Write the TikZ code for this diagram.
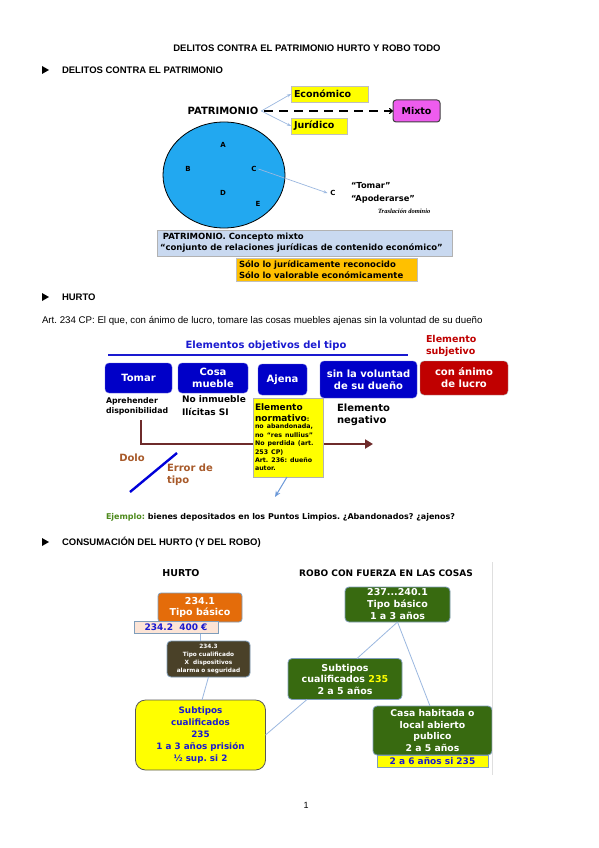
\documentclass[tikz,border=0pt]{standalone}
\usepackage{fontspec}
\setmainfont{Liberation Sans}
\newfontfamily\djv{DejaVu Sans}
\newfontfamily\lserif{Liberation Serif}
\usetikzlibrary{shapes.geometric,arrows.meta}
\newcommand\fs[2]{\fontsize{#1}{#2}\selectfont}
\frenchspacing
\definecolor{yel}{HTML}{FFFF00}
\definecolor{magbox}{HTML}{EE5CEE}
\definecolor{sky}{HTML}{22A8F0}
\definecolor{concept}{HTML}{C9D9F0}
\definecolor{orgy}{HTML}{FFC000}
\definecolor{dblue}{HTML}{0000C8}
\definecolor{tblue}{HTML}{1A1AD0}
\definecolor{dred}{HTML}{C00000}
\definecolor{brownl}{HTML}{6E2B2B}
\definecolor{dolo}{HTML}{A85A2A}
\definecolor{grn}{HTML}{386A10}
\definecolor{egreen}{HTML}{4E8A1C}
\definecolor{org2}{HTML}{E46C0A}
\definecolor{peach}{HTML}{FCE4D6}
\definecolor{olb}{HTML}{4A4128}
\definecolor{lineb}{HTML}{9BB8E0}
\definecolor{arrb}{HTML}{6A98D8}
\definecolor{bborder}{HTML}{7F9DBA}
\begin{document}
\frenchspacing
\begin{tikzpicture}[x=1pt,y=-1pt,
  every node/.style={inner sep=0pt, outer sep=0pt},
  pgb/.style={font=\bfseries\fs{9.5}{11}},
  pg/.style={font=\fs{9}{11}},
  dj/.style 2 args={font=\djv\bfseries\fs{#1}{#2}},
  ybox/.style={fill=yel, draw=gray!50, align=left, inner xsep=3pt},
  bluebox/.style={fill=dblue, draw=dblue!60!white, rounded corners=4pt, text=white, align=center, dj={10}{12}},
  thinarrow/.style={draw=lineb, line width=0.7pt, -{Stealth[length=4pt,width=3pt,open]}},
  linkb/.style={draw=lineb, line width=0.8pt},
  greenbox/.style={fill=grn, draw=bborder, rounded corners=4pt, text=white, align=center, line width=0.8pt}
]
\useasboundingbox (0,0) rectangle (599,848);
\fill[white] (0,0) rectangle (599,848);

% header
\node[pgb] (title) at (307,48) {DELITOS CONTRA EL PATRIMONIO HURTO Y ROBO TODO};
\fill (42,66) -- (49,70) -- (42,74) -- cycle;
\node[pgb, anchor=west] (h1) at (62,70) {DELITOS CONTRA EL PATRIMONIO};

% patrimonio
\node[dj={10}{12}] (patr) at (223,111) {PATRIMONIO};
\node[ybox, dj={9.5}{11}, minimum height=16pt, text width=71pt] (eco) at (329.5,94) {Económico};
\node[ybox, dj={9.5}{11}, minimum height=16pt, text width=50pt] (jur) at (319,126) {Jurídico};
\node[fill=magbox, draw=black!75, line width=1pt, rounded corners=3pt, minimum width=47pt, minimum height=22pt, dj={9.5}{11}] (mixto) at (416.5,111) {Mixto};
\draw[thinarrow] ([xshift=3pt]patr.east) -- (eco.west);
\draw[thinarrow] ([xshift=3pt]patr.east) -- (jur.west);
\draw[line width=1.1pt, dash pattern=on 9pt off 6pt, -{To[length=4pt,width=6pt]}] ([xshift=6pt]patr.east) -- (mixto.west);

\node[ellipse, draw=black, line width=0.8pt, fill=sky, minimum width=122pt, minimum height=106pt] (circ) at (224,175) {};
\node[dj={7}{8}] (la) at (223,145) {A};
\node[dj={7}{8}] (lb) at (188,169) {B};
\node[dj={7}{8}] (lc) at (254,169) {C};
\node[dj={7}{8}] (ld) at (223,193) {D};
\node[dj={7}{8}] (le) at (258,204) {E};
\node[dj={7}{8}] (c2) at (333,193) {C};
\draw[thinarrow] ([xshift=2pt]lc.east) -- ([xshift=-3pt]c2.west);
\node[dj={8.3}{10}, anchor=west] (tomar) at (351,186) {“Tomar”};
\node[dj={8.3}{10}, anchor=west] (apod) at (351,199) {“Apoderarse”};
\node[font=\lserif\bfseries\itshape\fs{6.5}{8}, anchor=west] (trasl) at (378,211) {Traslación dominio};

\node[fill=concept, draw=gray!60, minimum width=295pt, minimum height=26pt, text width=289pt, inner xsep=3pt, align=left, dj={8.5}{11}] (concepto) at (304.5,243) {\ PATRIMONIO. Concepto mixto\\“conjunto de relaciones jurídicas de contenido económico”};
\node[fill=orgy, draw=gray!50, minimum width=181pt, minimum height=23pt, text width=175pt, inner xsep=3pt, align=left, dj={8.5}{11.5}] (solo) at (326.5,269.5) {Sólo lo jurídicamente reconocido\\Sólo lo valorable económicamente};

% hurto
\fill (42,293) -- (49,297) -- (42,301) -- cycle;
\node[pgb, anchor=west] (h2) at (62,297) {HURTO};
\node[font=\fs{9.7}{11}, anchor=west] (art) at (42,321) {Art. 234 CP: El que, con ánimo de lucro, tomare las cosas muebles ajenas sin la voluntad de su dueño};

\node[dj={10}{12}, text=tblue] (elobj) at (266,346) {Elementos objetivos del tipo};
\coordinate (ul1) at (108,355);
\coordinate (ul2) at (408,355);
\draw[tblue, line width=1.3pt] (ul1) -- (ul2);
\node[dj={9.5}{12}, text=dred, align=left, anchor=north west] (elsub) at (426,335) {Elemento\\subjetivo};

\node[bluebox, minimum width=67pt, minimum height=30pt] (btomar) at (138.5,378) {Tomar};
\node[bluebox, minimum width=70pt, minimum height=30pt] (bcosa) at (213,378) {Cosa\\mueble};
\node[bluebox, minimum width=49pt, minimum height=31pt] (bajena) at (282.5,379.5) {Ajena};
\node[bluebox, minimum width=97pt, minimum height=37pt] (bsin) at (368.5,379.5) {sin la voluntad\\de su dueño};
\node[bluebox, fill=dred, draw=gray!70, minimum width=88pt, minimum height=34pt] (blucro) at (464,378) {con ánimo\\de lucro};

\node[dj={7.8}{10}, align=left, anchor=north west] (apre) at (106,398) {Aprehender\\disponibilidad};
\node[dj={9}{13}, align=left, anchor=north west] (noinm) at (182,396) {No inmueble\\Ilícitas SI};

% brown line
\coordinate (bl1) at (141,420);
\coordinate (bl2) at (141,444);
\coordinate (bl3) at (373,444);
\draw[brownl, line width=2.6pt, -{Triangle[length=8pt,width=9pt]}] (bl1) -- (bl2) -- (bl3);

\node[fill=yel, draw=gray!60, anchor=north west, minimum width=70pt, minimum height=79pt, text width=66pt, inner xsep=2pt, inner ysep=3pt, align=left, dj={9}{11}] (norm) at (253,398) {\fs{9}{11}Elemento\par normativo{\fs{6.3}{8.4}:}\par\vspace{-1.5pt}\fs{6.3}{8.4}no abandonada,\par no “res nullius”\par No perdida (art.\par 253 CP)\par Art. 236: dueño\par autor.\par};
\node[dj={10}{12}, align=left, anchor=north west] (neg) at (337,404) {Elemento\\negativo};

\node[dj={10}{12}, text=dolo] (ndolo) at (132,458) {Dolo};
\node[dj={10}{12}, text=dolo, align=left, anchor=north west] (nerr) at (167,464) {Error de\\tipo};
\draw[blue!85!black, line width=2.4pt] (130,492) -- (177,453);
\coordinate (narr) at (275,497);
\draw[arrb, line width=1pt, -{Stealth[length=6pt,width=5pt,open]}] ([xshift=-1pt]norm.south) -- (narr);

\node[dj={8}{9}, anchor=west] (ejem) at (106,517) {{\color{egreen}Ejemplo:} bienes depositados en los Puntos Limpios. ¿Abandonados? ¿ajenos?};

% consumacion
\fill (42,538) -- (49,542) -- (42,546) -- cycle;
\node[pgb, anchor=west] (h3) at (62,542) {CONSUMACIÓN DEL HURTO (Y DEL ROBO)};

\node[dj={9.5}{11}] (thurto) at (181,573) {HURTO};
\node[dj={9}{11}] (trobo) at (386,573) {ROBO CON FUERZA EN LAS COSAS};

\node[fill=org2, draw=bborder, line width=0.8pt, rounded corners=3pt, minimum width=84pt, minimum height=29pt, text=white, align=center, dj={9.5}{11.5}] (t2341) at (200,607.5) {234.1\\Tipo básico};
\node[fill=peach, draw=bborder, line width=0.8pt, minimum width=84pt, minimum height=12pt, text=tblue, dj={9}{11}] (t2342) at (176,627.5) {234.2\ \ 400 €};
\node[fill=olb, draw=bborder, line width=0.8pt, rounded corners=4pt, minimum width=83pt, minimum height=36pt, text=white, align=center, dj={5.8}{7.7}] (t2343) at (208.5,659) {234.3\\Tipo cualificado\\X\ \ dispositivos\\alarma o seguridad};
\draw[linkb] ([xshift=24pt]t2342.south) -- ([xshift=-8.5pt]t2343.north);

\node[fill=yel, draw=gray!70!black, line width=0.8pt, rounded corners=10pt, minimum width=130pt, minimum height=70pt, text=tblue, align=center, dj={8.8}{12}] (ybig) at (200.5,735) {Subtipos\\cualificados\\235\\1 a 3 años prisión\\½ sup. si 2};
\draw[linkb] (t2343.south) -- ([xshift=1.5pt]ybig.north);

\node[greenbox, minimum width=105pt, minimum height=35pt, dj={9.5}{12}] (gtop) at (397.5,604.5) {237...240.1\\Tipo básico\\1 a 3 años};
\node[greenbox, minimum width=114pt, minimum height=41pt, dj={9.5}{11.5}] (gmid) at (345,679) {Subtipos\\cualificados {\color{yel}235}\\2 a 5 años};
\node[greenbox, minimum width=119pt, minimum height=49pt, dj={9.3}{11.7}] (gcasa) at (432.5,730.5) {Casa habitada o\\local abierto\\publico\\2 a 5 años};
\node[fill=yel, draw=bborder, line width=0.8pt, minimum width=111pt, minimum height=12pt, text=tblue, dj={9}{11}] (strip) at (432.5,761) {2 a 6 años si 235};
\draw[linkb] (gtop.south) -- ([xshift=12pt]gmid.north);
\draw[linkb] (gtop.south) -- ([xshift=-2.5pt]gcasa.north);
\draw[linkb] ([xshift=-38pt]gmid.south) -- (ybig.east);
\draw[gray!25, line width=0.8pt] (492,562) -- (492,775);

\node[pg] (pnum) at (306,805) {1};
\end{tikzpicture}
\end{document}
